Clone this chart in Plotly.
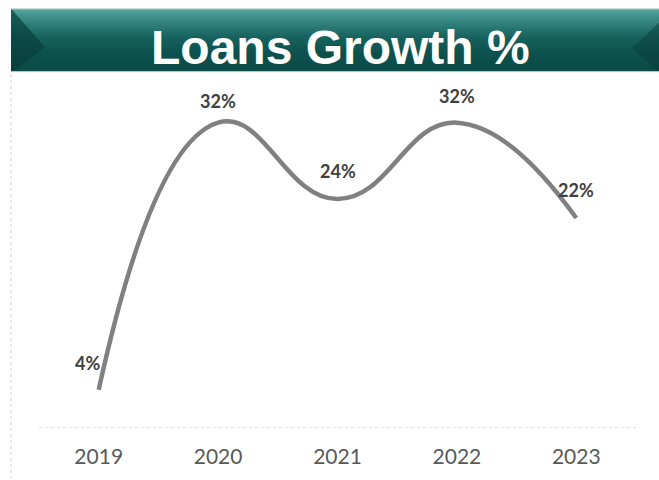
import base64
import plotly.graph_objects as go

# Loan growth by year (percent)
years = ["2019", "2020", "2021", "2022", "2023"]
growth = [4, 32, 24, 32, 22]
labels = ["4%", "32%", "24%", "32%", "22%"]

W, H = 659, 480
M_L, M_R, M_T, M_B = 39, 23, 94, 50
PW, PH = W - M_L - M_R, H - M_T - M_B


def px_x(px):
    return (px - M_L) / PW


def px_y(py):
    return (H - M_B - py) / PH


# Banner artwork (gradient bar with bevelled ends), drawn as an SVG background
banner_svg = """<svg xmlns='http://www.w3.org/2000/svg' width='648' height='64' viewBox='0 0 648 64' preserveAspectRatio='none'>
<defs>
<linearGradient id='g' x1='0' y1='0' x2='0' y2='1'>
<stop offset='0' stop-color='#5aa8a2'/>
<stop offset='0.12' stop-color='#3f918b'/>
<stop offset='0.45' stop-color='#17625e'/>
<stop offset='0.7' stop-color='#0d514e'/>
<stop offset='1' stop-color='#0b4a47'/>
</linearGradient>
<linearGradient id='s' x1='0' y1='0' x2='0' y2='1'>
<stop offset='0' stop-color='#0a4744'/>
<stop offset='1' stop-color='#083c3a'/>
</linearGradient>
</defs>
<rect x='0' y='0' width='648' height='64' fill='url(#g)'/>
<polygon points='0,0 34,39 0,64' fill='url(#s)' opacity='0.75'/>
<polygon points='648,14 621,40 648,64' fill='url(#s)' opacity='0.6'/>
<rect x='0' y='0' width='648' height='1' fill='#9cc9c5'/>
<rect x='0' y='63' width='648' height='1' fill='#cfd8d7'/>
</svg>"""
banner_uri = "data:image/svg+xml;base64," + base64.b64encode(banner_svg.encode()).decode()

fig = go.Figure()

fig.add_trace(go.Scatter(
    x=years,
    y=growth,
    mode="lines",
    line=dict(color="#808080", width=4.5, shape="spline", smoothing=1.3),
    hoverinfo="skip",
    showlegend=False,
))

# Value labels above each point (x given as category index)
label_dx = [-11, 0, 0, 0, 0]
label_dy = [27, 22, 28, 27, 28]
for i, (val, txt, dx, dy) in enumerate(zip(growth, labels, label_dx, label_dy)):
    fig.add_annotation(
        x=i, y=val, text=txt, showarrow=False,
        xshift=dx, yshift=dy,
        font=dict(family="Lato", size=18, color="#404040", weight="bold"),
    )

# Title text on the banner
fig.add_annotation(
    xref="paper", yref="paper",
    x=px_x(340), y=px_y(47),
    text="<b>Loans Growth %</b>", showarrow=False,
    font=dict(family="Liberation Sans", size=48, color="white"),
    xanchor="center", yanchor="middle",
)

fig.add_layout_image(
    source=banner_uri,
    xref="paper", yref="paper",
    x=px_x(11), y=px_y(8),
    sizex=px_x(659) - px_x(11), sizey=px_y(8) - px_y(72),
    xanchor="left", yanchor="top",
    sizing="stretch", layer="below",
)

# Dotted baseline and left frame edge
fig.add_shape(type="line", xref="paper", yref="y",
              x0=0, x1=1, y0=0, y1=0,
              line=dict(color="#c0c0c0", width=1, dash="dot"))
fig.add_shape(type="line", xref="paper", yref="paper",
              x0=px_x(11), x1=px_x(11), y0=px_y(74), y1=px_y(480),
              line=dict(color="#d0d0d0", width=1, dash="dot"))

fig.update_layout(
    width=W, height=H,
    margin=dict(l=M_L, r=M_R, t=M_T, b=M_B),
    paper_bgcolor="white",
    plot_bgcolor="white",
    xaxis=dict(
        type="category",
        range=[-0.5, 4.5],
        showgrid=False, zeroline=False, showline=False,
        ticks="", ticklabelstandoff=14,
        tickfont=dict(family="Lato", size=21, color="#595959"),
        fixedrange=True,
    ),
    yaxis=dict(
        range=[0, 35],
        visible=False,
        fixedrange=True,
    ),
)

fig.write_html("out.html")
